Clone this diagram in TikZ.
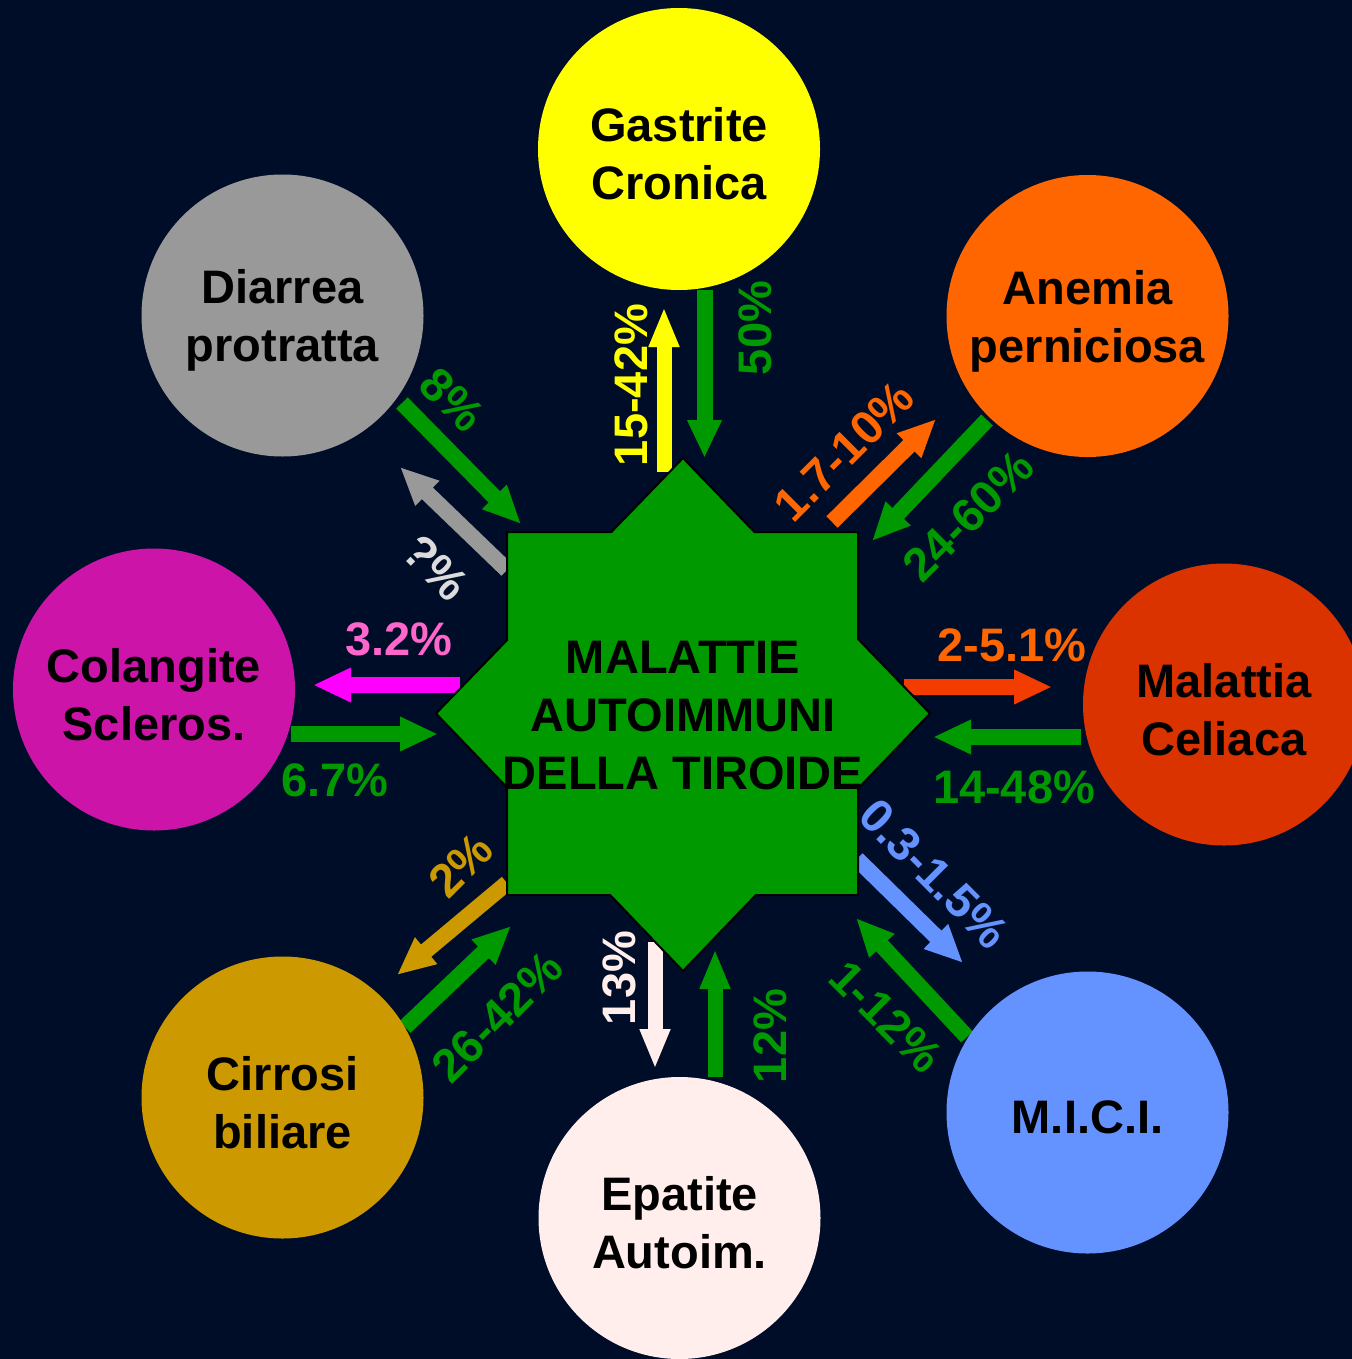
\documentclass[tikz,border=0pt]{standalone}
\usepackage{fontspec}
\setmainfont{Liberation Sans}
\usetikzlibrary{arrows.meta}

\definecolor{bg}{RGB}{0,13,40}
\definecolor{grn}{RGB}{0,153,0}
\definecolor{gastrite}{RGB}{255,255,0}
\definecolor{anemia}{RGB}{255,102,0}
\definecolor{celiaca}{RGB}{218,51,0}
\definecolor{celiacarr}{RGB}{242,60,0}
\definecolor{mici}{RGB}{100,146,255}
\definecolor{epatite}{RGB}{255,238,236}
\definecolor{cirrosi}{RGB}{204,153,0}
\definecolor{colangite}{RGB}{204,20,168}
\definecolor{colangarr}{RGB}{255,0,255}
\definecolor{colangtxt}{RGB}{255,102,204}
\definecolor{diarrea}{RGB}{153,153,153}
\definecolor{diarreatxt}{RGB}{220,220,220}

\newcommand\labfont{\fontsize{23.5}{29}\selectfont\bfseries}

\begin{document}
\begin{tikzpicture}[x=0.5pt,y=-0.5pt,
  disease/.style={circle,minimum size=141pt,inner sep=0pt,align=center,font=\labfont,text=black},
  disname/.style={font=\labfont,align=center,text=black,inner sep=0pt,yshift=-2.5pt},
  flow/.style={line width=8pt,-{Triangle[length=19pt,width=16pt]}},
  thinflow/.style={line width=7.5pt,-{Triangle[length=20pt,width=14pt]}},
  pct/.style={font=\labfont,inner sep=0pt}]

% background and page frame
\fill[bg] (0,0) rectangle (1352,1359);
\useasboundingbox (0,0) rectangle (1352,1359);

% arrow end points
\coordinate (gsUp0) at (664,472);   \coordinate (gsUp1) at (664,307);
\coordinate (gsDn0) at (704.5,290); \coordinate (gsDn1) at (704.5,458);
\coordinate (anUp0) at (832,522);   \coordinate (anUp1) at (936,419);
\coordinate (anDn0) at (987,420);   \coordinate (anDn1) at (872,541);
\coordinate (ceOut0) at (904,687);  \coordinate (ceOut1) at (1052,687);
\coordinate (ceIn0) at (1081,737);  \coordinate (ceIn1) at (933,737);
\coordinate (miOut0) at (857,859);  \coordinate (miOut1) at (963,963);
\coordinate (miIn0) at (967,1037);  \coordinate (miIn1) at (856,918);
\coordinate (epOut0) at (655,942);  \coordinate (epOut1) at (655,1069);
\coordinate (epIn0) at (715,1077);  \coordinate (epIn1) at (715,949);
\coordinate (ciOut0) at (507,883);  \coordinate (ciOut1) at (397,975);
\coordinate (ciIn0) at (405,1027);  \coordinate (ciIn1) at (511,926);
\coordinate (coOut0) at (460,685);  \coordinate (coOut1) at (313,685);
\coordinate (coIn0) at (291,734);   \coordinate (coIn1) at (438,734);
\coordinate (diOut0) at (507,570);  \coordinate (diOut1) at (400,467);
\coordinate (diIn0) at (402,403);   \coordinate (diIn1) at (521,524);

% flows between the thyroid and the associated diseases
\draw[thinflow,gastrite] (gsUp0) -- (gsUp1);
\draw[flow,grn] (gsDn0) -- (gsDn1);
\draw[flow,anemia] (anUp0) -- (anUp1);
\draw[flow,grn] (anDn0) -- (anDn1);
\draw[flow,celiacarr] (ceOut0) -- (ceOut1);
\draw[flow,grn] (ceIn0) -- (ceIn1);
\draw[flow,mici] (miOut0) -- (miOut1);
\draw[flow,grn] (miIn0) -- (miIn1);
\draw[thinflow,epatite] (epOut0) -- (epOut1);
\draw[thinflow,grn] (epIn0) -- (epIn1);
\draw[flow,cirrosi] (ciOut0) -- (ciOut1);
\draw[flow,grn] (ciIn0) -- (ciIn1);
\draw[flow,colangarr] (coOut0) -- (coOut1);
\draw[flow,grn] (coIn0) -- (coIn1);
\draw[flow,diarrea] (diOut0) -- (diOut1);
\draw[flow,grn] (diIn0) -- (diIn1);

% eight-pointed star
\draw[fill=grn,draw=black,line width=1pt,line join=miter]
  (683,458) -- (754.4,532) -- (858,532) -- (858,639) -- (930,713.5)
  -- (858,788.6) -- (858,895) -- (755.9,895) -- (683,971) -- (610.1,895)
  -- (507,895) -- (507,787.5) -- (436,713.5) -- (507,640.1) -- (507,532)
  -- (611.4,532) -- cycle;
\node[font=\labfont,align=center,text=black,inner sep=0pt] (tiroide) at (683,716)
  {MALATTIE\\AUTOIMMUNI\\DELLA TIROIDE};

% associated diseases
\node[disease,fill=gastrite]  (gastrite)  at (679,149)    {};
\node[disease,fill=anemia]    (anemia)    at (1087.5,316) {};
\node[disease,fill=celiaca]   (celiaca)   at (1224,704.5) {};
\node[disease,fill=mici]      (mici)      at (1087.5,1112.5) {};
\node[disease,fill=epatite]   (epatite)   at (679.5,1218) {};
\node[disease,fill=cirrosi]   (cirrosi)   at (282.5,1097.5) {};
\node[disease,fill=colangite] (colangite) at (154,689.5)  {};
\node[disease,fill=diarrea]   (diarrea)   at (282.5,315.5) {};

\node[disname] (tGastrite)  at (gastrite)  {Gastrite\\Cronica};
\node[disname] (tAnemia)    at (anemia)    {Anemia\\perniciosa};
\node[disname] (tCeliaca)   at (celiaca)   {Malattia\\Celiaca};
\node[disname] (tMici)      at (mici)      {M.I.C.I.};
\node[disname] (tEpatite)   at (epatite)   {Epatite\\Autoim.};
\node[disname] (tCirrosi)   at (cirrosi)   {Cirrosi\\biliare};
\node[disname] (tColangite) at (colangite) {Colangite\\Scleros.};
\node[disname] (tDiarrea)   at (diarrea)   {Diarrea\\protratta};

% prevalence figures
\node[pct,text=gastrite,rotate=90] (pGsUp) at (631,385) {15-42\%};
\node[pct,text=grn,rotate=90]      (pGsDn) at (755,328) {50\%};
\node[pct,text=anemia,rotate=45]   (pAnUp) at (844,451) {1.7-10\%};
\node[pct,text=grn,rotate=45]      (pAnDn) at (968,516) {24-60\%};
\node[pct,text=anemia]             (pCeOut) at (1012,645) {2-5.1\%};
\node[pct,text=grn]                (pCeIn) at (1014,787) {14-48\%};
\node[pct,text=mici,rotate=-45]    (pMiOut) at (934,874) {0.3-1.5\%};
\node[pct,text=grn,rotate=-45]     (pMiIn) at (886,1017) {1-12\%};
\node[pct,text=epatite,rotate=90]  (pEpOut) at (619,978) {13\%};
\node[pct,text=grn,rotate=90]      (pEpIn) at (770,1036) {12\%};
\node[pct,text=cirrosi,rotate=45]  (pCiOut) at (461,865) {2\%};
\node[pct,text=grn,rotate=45]      (pCiIn) at (497,1017) {26-42\%};
\node[pct,text=colangtxt]          (pCoOut) at (399,639) {3.2\%};
\node[pct,text=grn]                (pCoIn) at (335,780) {6.7\%};
\node[pct,text=diarreatxt,rotate=-45] (pDiOut) at (436,568) {?\%};
\node[pct,text=grn,rotate=-45]     (pDiIn) at (452,400) {8\%};
\end{tikzpicture}
\end{document}
